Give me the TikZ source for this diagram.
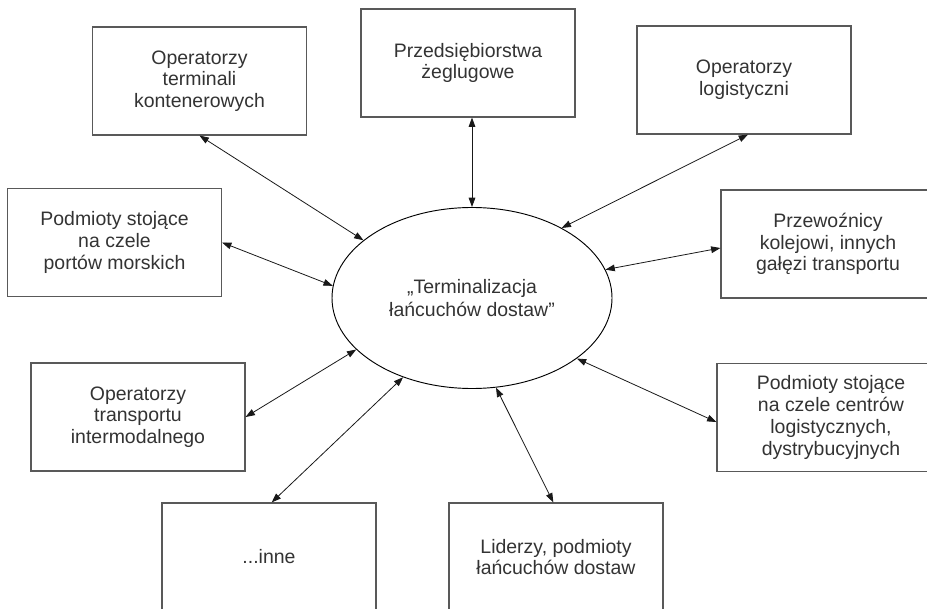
\documentclass[tikz,border=0pt]{standalone}
\usepackage{fontspec}
\setmainfont{Liberation Sans}
\usetikzlibrary{shapes.geometric,arrows.meta}
\begin{document}
\begin{tikzpicture}[x=0.75pt,y=-0.75pt,
  actor/.style={draw=black!65, line width=0.85pt, rectangle,
    minimum width=160.5pt, minimum height=81pt, inner sep=0pt,
    align=center, text=black!80,
    font=\fontsize{14.6}{16.3}\selectfont},
  hub/.style={draw=black, line width=0.7pt, ellipse,
    minimum width=210pt, minimum height=135.75pt, inner sep=0pt,
    align=center, text=black!80,
    font=\fontsize{14.6}{16.8}\selectfont},
  link/.style={draw=black!90, line width=0.6pt,
    {Triangle[length=7pt,width=5pt]}-{Triangle[length=7pt,width=5pt]}}]

\useasboundingbox (0,0) rectangle (927,609);
\clip (0,0) rectangle (927,609);

% central concept
\node[hub] (hub) at (472,298) {„Terminalizacja\\łańcuchów dostaw”};

% surrounding participants
\node[actor] (b1) at (199.5,81) {Operatorzy\\terminali\\kontenerowych};
\node[actor] (b2) at (468,63) {Przedsiębiorstwa\\żeglugowe};
\node[actor] (b3) at (744,80) {Operatorzy\\logistyczni};
\node[actor] (b4) at (114.5,242.5) {Podmioty stojące\\na czele\\portów morskich};
\node[actor] (b5) at (828,244) {Przewoźnicy\\kolejowi, innych\\gałęzi transportu};
\node[actor] (b6) at (138,417) {Operatorzy\\transportu\\intermodalnego};
\node[actor, minimum width=171pt] (b7) at (831,417.5) {Podmioty stojące\\na czele centrów\\logistycznych,\\dystrybucyjnych};
\node[actor] (b8) at (269,557) {...inne};
\node[actor] (b9) at (556,557) {Liderzy, podmioty\\łańcuchów dostaw};

% two-way relations
\draw[link] (b1.south) -- (hub.152);
\draw[link] (hub.north) -- (hub.north |- b2.south);
\draw[link] ([xshift=3pt]b3.south) -- (hub.38);
\draw[link] (b4.east) -- (hub.175);
\draw[link] ([yshift=-3pt]b5.west) -- (hub.12.6);
\draw[link] (b6.east) -- (hub.204.6);
\draw[link] ([yshift=-3.4pt]b7.west) -- (hub.330);
\draw[link] ([xshift=2pt]b8.north) -- (hub.229.5);
\draw[link] ([xshift=-2pt]b9.north) -- (hub.285.8);
\end{tikzpicture}
\end{document}
